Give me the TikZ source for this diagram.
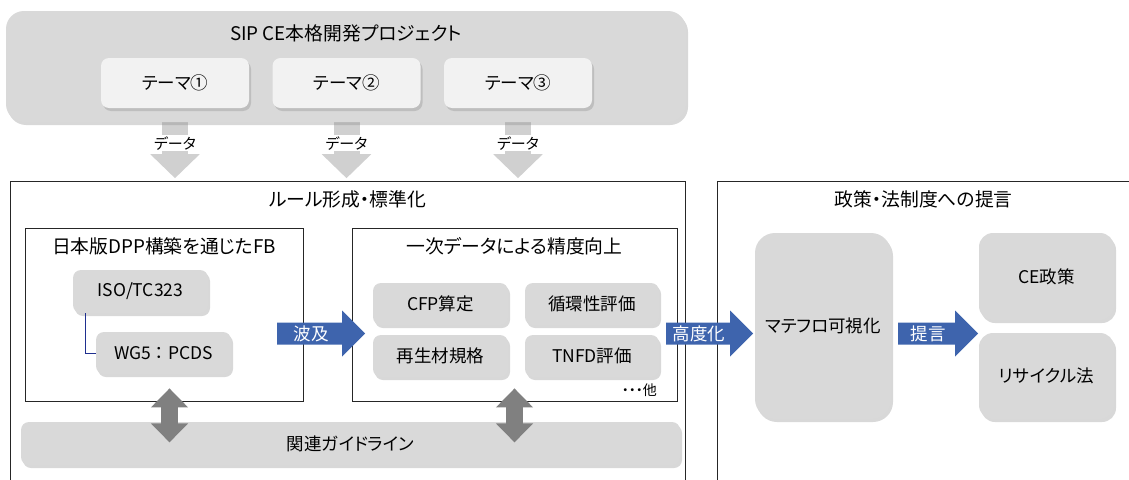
\documentclass[tikz,border=0pt]{standalone}
\usepackage{fontspec}
\setmainfont{Noto Sans CJK JP}[RawFeature={+palt}]
\usetikzlibrary{shadows,arrows.meta,backgrounds}

\definecolor{boxgray}{HTML}{D9D9D9}
\definecolor{themegray}{HTML}{F2F2F2}
\definecolor{arrowgray}{HTML}{D0D0D0}
\definecolor{linkgray}{HTML}{808080}
\definecolor{arrowblue}{HTML}{3E64AD}
\definecolor{linknavy}{HTML}{1F2F8F}

\newcommand\lblsize{\fontsize{17.5}{20}\selectfont}
\newcommand\ttlsize{\fontsize{18.8}{22}\selectfont}
% Blockpfeil: Schaftanfang, Spitzenanfang, Spitze, Mitte y
\newcommand\blockarrow[4]{%
  \fill[arrowblue] (#1,#4-11) -- (#2,#4-11) -- (#2,#4-23) -- (#3,#4)
    -- (#2,#4+23) -- (#2,#4+11) -- (#1,#4+11) -- cycle;}

\tikzset{
  graybox/.style={rectangle,rounded corners=8pt,fill=boxgray,inner sep=0pt,font=\lblsize,
    drop shadow={shadow xshift=2pt,shadow yshift=-3pt,opacity=0.3}},
  themebox/.style={graybox,fill=themegray},
  areabox/.style={rectangle,draw=black!85,line width=0.8pt,inner sep=0pt},
  areatitle/.style={font=\ttlsize,inner sep=0pt},
  arrowlabel/.style={text=white,font=\lblsize,inner sep=0pt},
  dataarrow/.style={draw=arrowgray,line width=26pt,-{Triangle[width=48pt,length=24pt]}},
  datalabel/.style={fill=white,font=\fontsize{15}{18}\selectfont,inner sep=1pt},
  linkarrow/.style={draw=linkgray,line width=17pt,
    {Triangle[width=36pt,length=19pt]}-{Triangle[width=36pt,length=19pt]}},
}

\begin{document}
\begin{tikzpicture}[x=1pt,y=-1pt]
\useasboundingbox (0,0) rectangle (1129,479);

% SIP Projekt
\node[graybox,rounded corners=18pt,minimum width=680pt,minimum height=111pt] (sip) at (346,66.5) {};
\node[areatitle] (siptitle) at (346,33) {SIP CE本格開発プロジェクト};
\foreach \i/\x/\sym in {1/175/①,2/346.5/②,3/518/③}
  \node[themebox,minimum width=148pt,minimum height=50pt] (theme\i) at (\x,83) {テーマ\sym};

% Bereiche
\node[areabox,minimum width=675pt,minimum height=309pt] (rule) at (347.5,335.5) {};
\node[areatitle] (ruletitle) at ([yshift=-19pt]rule.north) {ルール形成・標準化};
\node[areabox,minimum width=423pt,minimum height=309pt] (policy) at (928.5,335.5) {};
\node[areatitle] (policytitle) at ([xshift=-5pt,yshift=-19pt]policy.north) {政策・法制度への提言};

\node[areabox,minimum width=278pt,minimum height=173pt] (dpp) at (164,314.5) {};
\node[areatitle] (dpptitle) at ([yshift=-19pt]dpp.north) {日本版DPP構築を通じたFB};
\node[areabox,minimum width=325pt,minimum height=173pt] (acc) at (514.5,314.5) {};
\node[areatitle] (acctitle) at ([yshift=-19pt]acc.north) {一次データによる精度向上};

% Kaesten
\node[graybox,minimum width=135pt,minimum height=43pt] (iso) at (140.5,291.5) {ISO/TC323};
\node[graybox,minimum width=135pt,minimum height=42pt] (wg5) at (163.5,353) {WG5\hspace{4pt}：\hspace{4pt}PCDS};
\node[graybox,minimum width=135pt,minimum height=42pt] (cfp) at (440.5,304) {CFP算定};
\node[graybox,minimum width=134pt,minimum height=42pt] (circ) at (592,304) {循環性評価};
\node[graybox,minimum width=135pt,minimum height=42pt] (recy) at (440.5,356) {再生材規格};
\node[graybox,minimum width=134pt,minimum height=42pt] (tnfd) at (592,356) {TNFD評価};
\node[font=\fontsize{14}{16}\selectfont,inner sep=0pt,anchor=east] (etc) at (657,390) {・・・他};
\node[graybox,minimum width=659pt,minimum height=43pt] (guide) at (350.5,443.5) {関連ガイドライン};

\node[graybox,rounded corners=20pt,minimum width=136pt,minimum height=186pt] (mateflo) at (823,326) {マテフロ可視化};
\node[graybox,rounded corners=14pt,minimum width=135pt,minimum height=87pt] (cepol) at (1046.5,276.5) {CE政策};
\node[graybox,rounded corners=14pt,minimum width=135pt,minimum height=86pt] (recylaw) at (1046.5,376) {リサイクル法};

% Pfeile
\blockarrow{277}{342}{365}{333.5}
\node[arrowlabel] (spread) at (311,333.5) {波及};
\blockarrow{666}{730}{753}{333.5}
\node[arrowlabel] (advance) at (699,333.5) {高度化};
\blockarrow{898}{955}{978}{333.5}
\node[arrowlabel] (propose) at (928,333.5) {提言};

\draw[linknavy,line width=0.8pt] ([xshift=13pt]iso.south west) |- (wg5.west);

\draw[linkarrow] ([xshift=5.5pt,yshift=13pt]dpp.south) -- ++(0,54);
\draw[linkarrow] ([yshift=13pt]acc.south) -- ++(0,54);

\begin{scope}[on background layer]
\fill[white] (0,0) rectangle (1129,479);
\foreach \i in {1,2,3}
  \draw[dataarrow] (theme\i.south) -- ++(0,70);
\end{scope}
\foreach \i in {1,2,3}
  \node[datalabel] (data\i) at ([yshift=-35pt]theme\i.south) {データ};
\end{tikzpicture}
\end{document}
